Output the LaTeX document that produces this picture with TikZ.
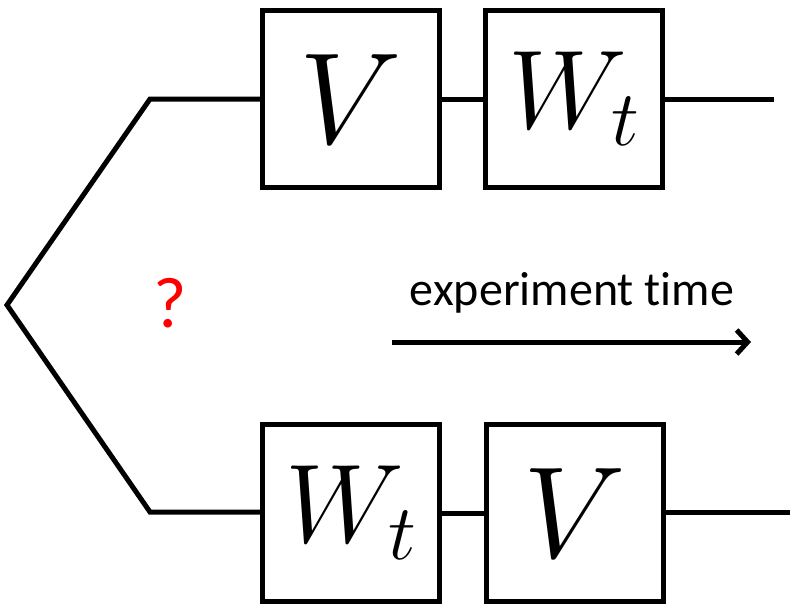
\RequirePackage{fix-cm}
\documentclass[tikz,border=0pt]{standalone}
\usepackage{fontspec}
\setmainfont{Carlito}[Ligatures=NoCommon]
\usetikzlibrary{positioning,arrows.meta}

\tikzset{
  gatebox/.style={draw,line width=5pt,minimum width=177pt,minimum height=177pt,
                  inner sep=0pt},
  wire/.style={line width=5pt},
}

\begin{document}
\begin{tikzpicture}[x=1pt,y=-1pt]
  \useasboundingbox (0,0) rectangle (794,606);
  % upper branch
  \node[gatebox] (vtop) at (351,99) {\fontsize{130}{130}\selectfont$V$};
  \node[gatebox] (wtop) at (574,99) {\fontsize{112}{112}\selectfont$W_t$};
  % lower branch
  \node[gatebox] (wbot) at (351,513) {\fontsize{112}{112}\selectfont$W_t$};
  \node[gatebox] (vbot) at (574.5,513) {\fontsize{130}{130}\selectfont$V$};
  \coordinate (fork) at (7,305);
  \coordinate (ktop) at (150,99);
  \coordinate (kbot) at (150,512);
  \coordinate (etop) at (774,99);
  \coordinate (ebot) at (790,512);
  \draw[wire] (vtop.west |- ktop) -- (ktop) -- (fork) -- (kbot) -- (wbot.west |- kbot);
  \draw[wire] (vtop) -- (wtop);
  \draw[wire] (wtop.east) -- (etop);
  \draw[wire] (wbot) -- (vbot);
  \draw[wire] (vbot.east |- ebot) -- (ebot);
  % time axis
  \node[red,font=\fontsize{72}{72}\selectfont] (ask) at (170,303) {?};
  \node[anchor=base,font=\fontsize{48}{48}\selectfont,inner sep=0pt] (lbl) at (572,305) {experiment time};
  \coordinate (tstart) at (392,342);
  \coordinate (tend) at (751,342);
  \draw[wire,-{Straight Barb[length=11pt,width=24pt,line width=5pt]}] (tstart) -- (tend);
\end{tikzpicture}
\end{document}
